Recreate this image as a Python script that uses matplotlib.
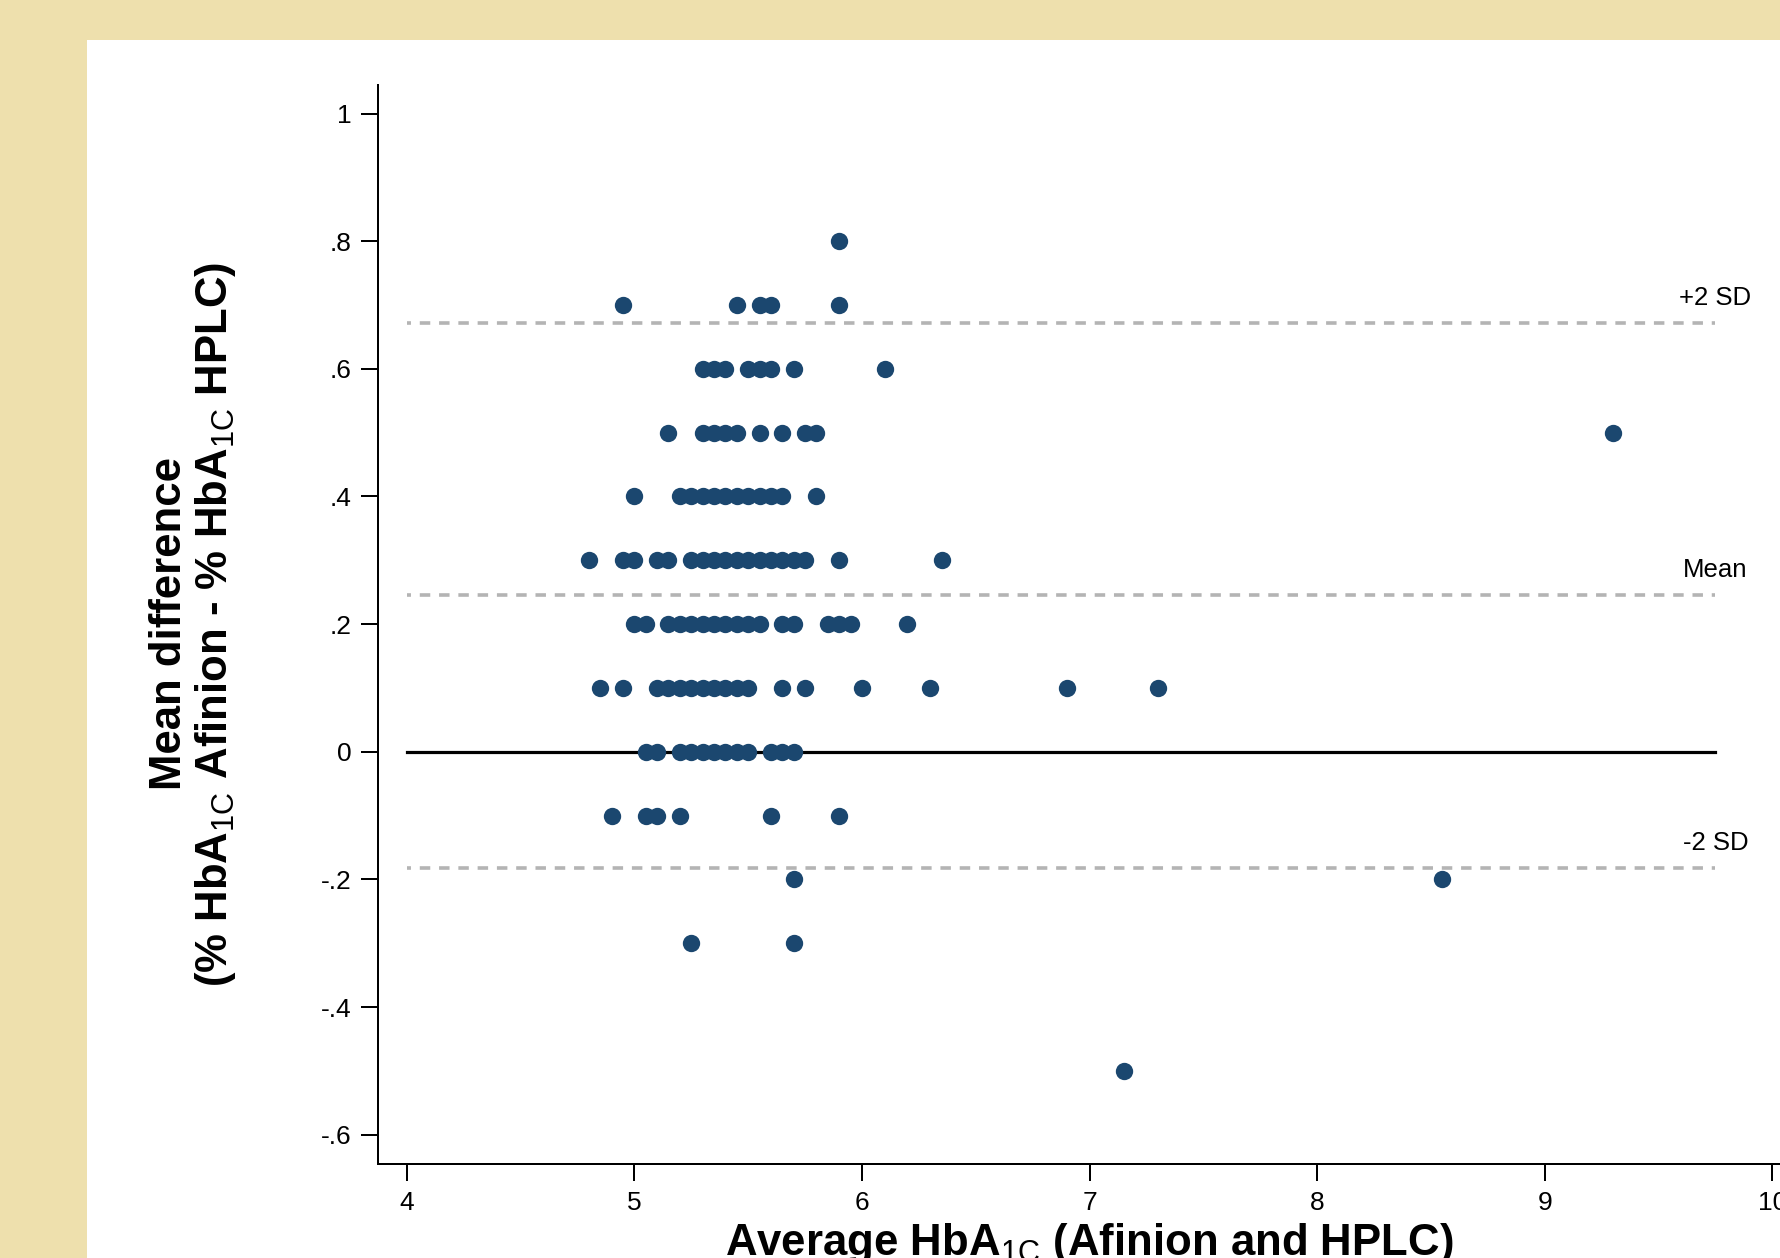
import matplotlib
matplotlib.use("Agg")
import matplotlib.pyplot as plt
from matplotlib.patches import Rectangle

plt.rcParams['font.family'] = ['Liberation Sans', 'DejaVu Sans']
plt.rcParams['mathtext.fontset'] = 'custom'
plt.rcParams['mathtext.rm'] = 'Liberation Sans'

# average HbA1c (x) for each observed difference level (y)
diff_levels = [0.8, 0.7, 0.6, 0.5, 0.4, 0.3, 0.2, 0.1, 0.0, -0.1, -0.2, -0.3, -0.5]
avg_p08 = [5.9]
avg_p07 = [4.95, 5.45, 5.55, 5.6, 5.9]
avg_p06 = [5.3, 5.35, 5.4, 5.5, 5.55, 5.6, 5.7, 6.1]
avg_p05 = [5.15, 5.3, 5.35, 5.4, 5.45, 5.55, 5.65, 5.75, 5.8, 9.3]
avg_p04 = [5.0, 5.2, 5.25, 5.3, 5.35, 5.4, 5.45, 5.5, 5.55, 5.6, 5.65, 5.8]
avg_p03 = [4.8, 4.95, 5.0, 5.1, 5.15, 5.25, 5.3, 5.35, 5.4, 5.45, 5.5, 5.55,
           5.6, 5.65, 5.7, 5.75, 5.9, 6.35]
avg_p02 = [5.0, 5.05, 5.15, 5.2, 5.25, 5.3, 5.35, 5.4, 5.45, 5.5, 5.55, 5.65,
           5.7, 5.85, 5.9, 5.95, 6.2]
avg_p01 = [4.85, 4.95, 5.1, 5.15, 5.2, 5.25, 5.3, 5.35, 5.4, 5.45, 5.5, 5.65,
           5.75, 6.0, 6.3, 6.9, 7.3]
avg_z00 = [5.05, 5.1, 5.2, 5.25, 5.3, 5.35, 5.4, 5.45, 5.5, 5.6, 5.65, 5.7]
avg_m01 = [4.9, 5.05, 5.1, 5.2, 5.6, 5.9]
avg_m02 = [5.7, 8.55]
avg_m03 = [5.25, 5.7]
avg_m05 = [7.15]
avg_rows = [avg_p08, avg_p07, avg_p06, avg_p05, avg_p04, avg_p03, avg_p02,
            avg_p01, avg_z00, avg_m01, avg_m02, avg_m03, avg_m05]

mean_diff = 0.245
upper_loa = 0.672
lower_loa = -0.182
line_start, line_end = 4, 9.75

yticks = [-0.6, -0.4, -0.2, 0, 0.2, 0.4, 0.6, 0.8, 1]
ytick_labels = ['-.6', '-.4', '-.2', '0', '.2', '.4', '.6', '.8', '1']
xticks = [4, 5, 6, 7, 8, 9, 10]

x_vals, y_vals = [], []
for d, row in zip(diff_levels, avg_rows):
    x_vals += row
    y_vals += [d] * len(row)

W, H = 1781, 1258
fig = plt.figure(figsize=(W / 100, H / 100), dpi=100)
fig.patch.set_facecolor('#eee0ad')
fig.patches.append(Rectangle((87 / W, 0), 1, (H - 40) / H, transform=fig.transFigure,
                             facecolor='white', edgecolor='none', zorder=-10))

ax = fig.add_axes([0.2124, 0.0746, 0.7987, 0.8575])
ax.set_facecolor('none')
ax.set_xlim(3.875, 10.125)
ax.set_ylim(-0.646, 1.044)

grey = '#b4b4b4'
for yv in [upper_loa, mean_diff, lower_loa]:
    ax.plot([line_start, line_end], [yv, yv], color=grey, lw=2.6,
            ls=(1.8, (2.9, 2.44)), solid_capstyle='butt', zorder=2)
ax.plot([line_start, line_end], [0, 0], color='black', lw=2.3, zorder=2)

ax.scatter(x_vals, y_vals, s=156, color='#1b476f', linewidths=0, zorder=3)

for yv, txt in [(upper_loa, '+2 SD'), (mean_diff, 'Mean'), (lower_loa, '-2 SD')]:
    ax.annotate(txt, (line_end, yv), xytext=(0, 13), textcoords='offset points',
                ha='center', va='baseline', fontsize=18.5)

ax.set_yticks(yticks)
ax.set_yticklabels(ytick_labels)
ax.set_xticks(xticks)
ax.tick_params(length=12.2, width=1.44, pad=7.2, labelsize=19, direction='out')
for side in ['top', 'right']:
    ax.spines[side].set_visible(False)
for side in ['left', 'bottom']:
    ax.spines[side].set_linewidth(1.44)

sub = r'$_{\mathrm{1C}}$'
fig.text(181 / W, 1 - 624 / H, 'Mean difference', rotation=90, rotation_mode='anchor',
         ha='center', va='baseline', fontsize=31.5, fontweight='bold')
fig.text(227 / W, 1 - 624 / H, '(% HbA' + sub + ' Afinion - % HbA' + sub + ' HPLC)',
         rotation=90, rotation_mode='anchor', ha='center', va='baseline',
         fontsize=31.5, fontweight='bold')
fig.text(1089.4 / W, 2.5 / H, 'Average HbA' + sub + ' (Afinion and HPLC)',
         ha='center', va='baseline', fontsize=31.5, fontweight='bold')

fig.savefig('out.png', dpi=100, facecolor=fig.get_facecolor())
